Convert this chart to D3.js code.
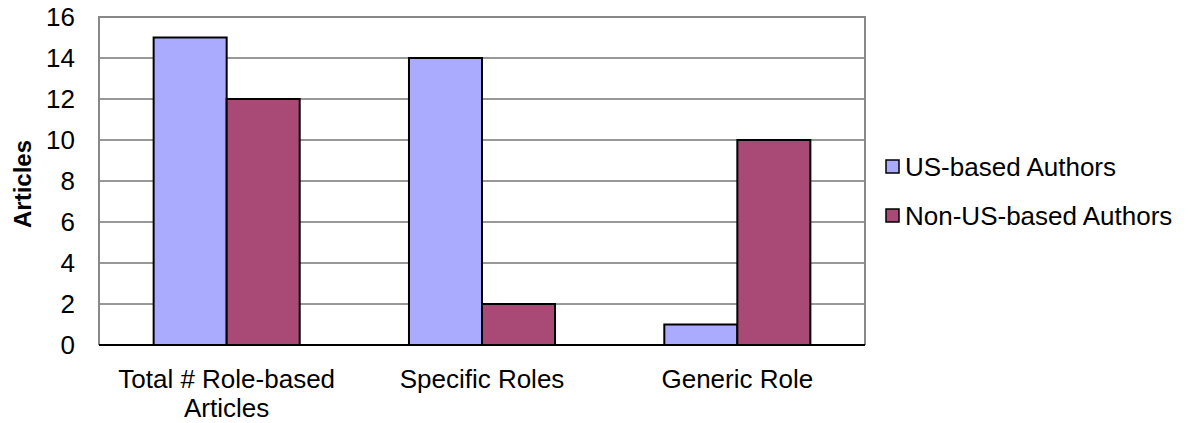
<!DOCTYPE html>
<html>
<head>
<meta charset="utf-8">
<script src="https://cdn.jsdelivr.net/npm/d3@7"></script>
<style>
  html, body { margin: 0; padding: 0; background: #fff; }
  svg { display: block; font-family: "Liberation Sans", Arial, sans-serif; }
</style>
</head>
<body>
<svg id="chart" width="1190" height="423"></svg>
<script>
// Article counts by author location
const categories = [["Total # Role-based", "Articles"], ["Specific Roles"], ["Generic Role"]];
const seriesNames = ["US-based Authors", "Non-US-based Authors"];
const usValues = [15, 14, 1];
const nonUsValues = [12, 2, 10];
const yTicks = [0, 2, 4, 6, 8, 10, 12, 14, 16];
const colors = ["#AAAAFF", "#A94A76"];

const svg = d3.select("#chart");
const plot = { left: 99, right: 865, top: 17, bottom: 345 };
const fontSize = 26;

const x0 = d3.scaleBand()
  .domain(d3.range(categories.length))
  .range([plot.left, plot.right])
  .paddingInner(0.428)
  .paddingOuter(0.214);
const x1 = d3.scaleBand()
  .domain(d3.range(seriesNames.length))
  .range([0, x0.bandwidth()]);
const y = d3.scaleLinear().domain([0, 16]).range([plot.bottom, plot.top]);

// gridlines
svg.append("g").selectAll("line")
  .data(yTicks.filter(t => t > 0 && t < 16))
  .join("line")
  .attr("x1", plot.left).attr("x2", plot.right)
  .attr("y1", d => y(d)).attr("y2", d => y(d))
  .attr("stroke", "#333").attr("stroke-width", 1);

// plot frame
svg.append("path")
  .attr("d", `M${plot.left},${plot.bottom}V${plot.top}H${plot.right}V${plot.bottom}`)
  .attr("fill", "none").attr("stroke", "#888").attr("stroke-width", 2);

// bars
const series = [usValues, nonUsValues];
const groups = svg.append("g").selectAll("g")
  .data(categories.map((c, i) => i))
  .join("g")
  .attr("transform", i => `translate(${x0(i)},0)`);
groups.selectAll("rect")
  .data(i => series.map((vals, s) => ({ s, v: vals[i] })))
  .join("rect")
  .attr("x", d => x1(d.s))
  .attr("y", d => y(d.v))
  .attr("width", x1.bandwidth())
  .attr("height", d => y(0) - y(d.v))
  .attr("fill", d => colors[d.s])
  .attr("stroke", "#000").attr("stroke-width", 2);

// x axis baseline
svg.append("line")
  .attr("x1", plot.left).attr("x2", plot.right)
  .attr("y1", plot.bottom).attr("y2", plot.bottom)
  .attr("stroke", "#000").attr("stroke-width", 2);

// y axis labels
const yAxis = d3.axisLeft(y).tickValues(yTicks).tickSize(0).tickPadding(24);
const yg = svg.append("g").attr("transform", `translate(${plot.left},0)`).call(yAxis);
yg.attr("font-size", null).attr("font-family", null);
yg.select(".domain").remove();
yg.selectAll("text").attr("font-size", fontSize).attr("fill", "#000");

// y axis title
svg.append("text")
  .attr("transform", `translate(31,${(plot.top + plot.bottom) / 2 + 3}) rotate(-90)`)
  .attr("text-anchor", "middle")
  .attr("font-size", 24).attr("font-weight", "bold")
  .text("Articles");

// category labels
const xl = svg.append("g").selectAll("text")
  .data(categories.map((c, i) => ({ c, i })))
  .join("text")
  .attr("text-anchor", "middle")
  .attr("font-size", fontSize)
  .attr("x", d => x0(d.i) + x0.bandwidth() / 2)
  .attr("y", 388);
xl.selectAll("tspan")
  .data(d => d.c.map(line => ({ line, cx: x0(d.i) + x0.bandwidth() / 2 })))
  .join("tspan")
  .attr("x", d => d.cx)
  .attr("dy", (d, j) => j === 0 ? 0 : 29)
  .text(d => d.line);

// legend
const legend = svg.append("g").selectAll("g")
  .data(seriesNames.map((n, i) => ({ n, i })))
  .join("g")
  .attr("transform", d => `translate(886,${160 + d.i * 49})`);
legend.append("rect")
  .attr("width", 13).attr("height", 13)
  .attr("fill", d => colors[d.i])
  .attr("stroke", "#000").attr("stroke-width", 1.5);
legend.append("text")
  .attr("x", 19).attr("y", 16)
  .attr("font-size", fontSize)
  .text(d => d.n);
</script>
</body>
</html>
